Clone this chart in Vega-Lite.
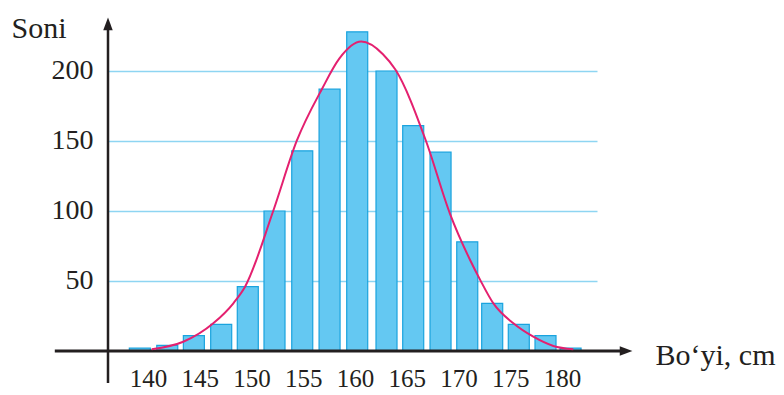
{
  "$schema": "https://vega.github.io/schema/vega-lite/v6.json",
  "width": 489,
  "height": 330,
  "autosize": "none",
  "padding": {"left": 108, "top": 21, "right": 187, "bottom": 44},
  "background": "white",
  "config": {"view": {"stroke": null}, "font": "Times New Roman, Times, serif"},
  "data": {"values": [{}]},
  "datasets": {
    "bars": [
      {"x0": 138.20, "x1": 140.23, "count": 2},
      {"x0": 140.85, "x1": 142.88, "count": 4},
      {"x0": 143.42, "x1": 145.45, "count": 11},
      {"x0": 146.06, "x1": 148.09, "count": 19},
      {"x0": 148.63, "x1": 150.66, "count": 46},
      {"x0": 151.21, "x1": 153.24, "count": 100},
      {"x0": 153.89, "x1": 155.92, "count": 143},
      {"x0": 156.53, "x1": 158.56, "count": 187},
      {"x0": 159.20, "x1": 161.23, "count": 228},
      {"x0": 162.03, "x1": 164.06, "count": 200},
      {"x0": 164.61, "x1": 166.64, "count": 161},
      {"x0": 167.25, "x1": 169.28, "count": 142},
      {"x0": 169.83, "x1": 171.86, "count": 78},
      {"x0": 172.24, "x1": 174.27, "count": 34},
      {"x0": 174.81, "x1": 176.84, "count": 19},
      {"x0": 177.39, "x1": 179.42, "count": 11},
      {"x0": 179.81, "x1": 181.84, "count": 2}
    ],
    "curve": [
      {"h": 140.36, "n": 1.2},
      {"h": 143.41, "n": 6.6},
      {"h": 146.31, "n": 19.8},
      {"h": 148.25, "n": 34.1},
      {"h": 149.38, "n": 45.9},
      {"h": 152.10, "n": 100},
      {"h": 154.37, "n": 150},
      {"h": 156.80, "n": 187},
      {"h": 158.50, "n": 209},
      {"h": 160.60, "n": 221},
      {"h": 162.70, "n": 212},
      {"h": 163.90, "n": 201},
      {"h": 166.86, "n": 150},
      {"h": 169.18, "n": 98},
      {"h": 171.12, "n": 65},
      {"h": 172.08, "n": 51},
      {"h": 173.37, "n": 34},
      {"h": 175.30, "n": 19.8},
      {"h": 177.23, "n": 10.2},
      {"h": 179.16, "n": 3.6},
      {"h": 181.09, "n": 1.2}
    ]
  },
  "encoding": {
    "x": {
      "type": "quantitative",
      "scale": {"domain": [136.14, 183.38], "nice": false, "zero": false},
      "axis": {
        "values": [140, 145, 150, 155, 160, 165, 170, 175, 180],
        "grid": false, "domain": false, "ticks": false,
        "labelPadding": 15, "labelFontSize": 25, "labelColor": "#231f20",
        "labelFont": "Times New Roman, Times, serif", "labelFlush": false, "labelOverlap": false,
        "title": "Bo‘yi, cm", "titleX": 547, "titleY": 13, "titleAlign": "left",
        "titleBaseline": "alphabetic", "titleFontSize": 30, "titleFontWeight": "normal",
        "titleFont": "Times New Roman, Times, serif", "titleColor": "#231f20"
      }
    },
    "y": {
      "type": "quantitative",
      "scale": {"domain": [0, 235.7], "nice": false},
      "axis": {
        "values": [50, 100, 150, 200],
        "grid": true, "gridColor": "#8ed5f2", "gridWidth": 1.5,
        "domain": false, "ticks": false,
        "labelPadding": 15, "labelFontSize": 28, "labelColor": "#231f20",
        "labelFont": "Times New Roman, Times, serif",
        "title": "Soni", "titleAngle": 0, "titleX": -97, "titleY": 16,
        "titleAlign": "left", "titleBaseline": "alphabetic", "titleFontSize": 30,
        "titleFontWeight": "normal", "titleFont": "Times New Roman, Times, serif", "titleColor": "#231f20"
      }
    }
  },
  "layer": [
    {
      "data": {"name": "bars"},
      "mark": {"type": "rect", "fill": "#64c8f2", "stroke": "#1aa3de", "strokeWidth": 1.2},
      "encoding": {
        "x": {"field": "x0"},
        "x2": {"field": "x1"},
        "y": {"field": "count"},
        "y2": {"datum": 0}
      }
    },
    {
      "mark": {"type": "rule", "color": "#231f20", "strokeWidth": 3},
      "encoding": {
        "x": {"datum": 131.0},
        "x2": {"datum": 186.0},
        "y": {"datum": 0}
      }
    },
    {
      "mark": {"type": "rule", "color": "#231f20", "strokeWidth": 2.5},
      "encoding": {
        "x": {"datum": 136.14},
        "y": {"datum": -22.9},
        "y2": {"datum": 232}
      }
    },
    {
      "data": {"name": "curve"},
      "mark": {"type": "line", "color": "#e4206f", "strokeWidth": 2, "interpolate": "monotone"},
      "encoding": {
        "x": {"field": "h"},
        "y": {"field": "n"}
      }
    },
    {
      "mark": {"type": "point", "filled": true, "color": "#231f20", "opacity": 1, "size": 160, "shape": "M-1,-0.75L1,0L-1,0.75Z"},
      "encoding": {
        "x": {"datum": 186.19},
        "y": {"datum": 0}
      }
    },
    {
      "mark": {"type": "point", "filled": true, "color": "#231f20", "opacity": 1, "size": 160, "shape": "M-0.75,1L0,-1L0.75,1Z"},
      "encoding": {
        "x": {"datum": 136.14},
        "y": {"datum": 233.6}
      }
    }
  ]
}
